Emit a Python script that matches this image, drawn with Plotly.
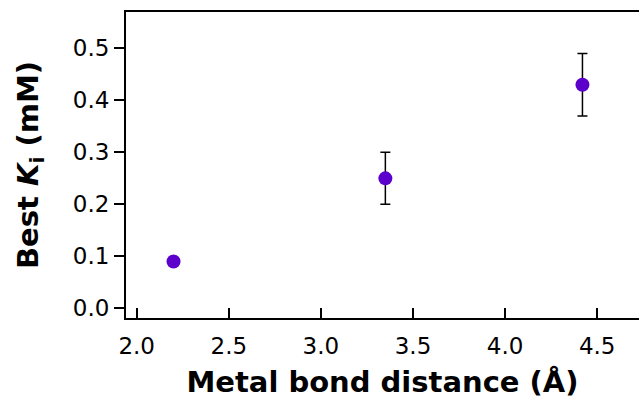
import plotly.graph_objects as go

# Measured data
bond_distance = [2.2, 3.35, 4.42]          # Å
best_ki = [0.09, 0.25, 0.43]               # mM
ki_error = [None, 0.05, 0.06]              # mM

x_ticks = [2.0, 2.5, 3.0, 3.5, 4.0, 4.5]
y_ticks = [0.0, 0.1, 0.2, 0.3, 0.4, 0.5]

marker_color = "#5c00cc"
font_family = "DejaVu Sans"

fig = go.Figure(
    go.Scatter(
        x=bond_distance,
        y=best_ki,
        mode="markers",
        marker=dict(size=14, color=marker_color),
        error_y=dict(
            type="data",
            array=ki_error,
            visible=True,
            color="black",
            thickness=1.5,
            width=5,
        ),
        showlegend=False,
    )
)

fig.update_layout(
    width=639,
    height=404,
    margin=dict(l=126, r=0, t=12, b=86),
    paper_bgcolor="white",
    plot_bgcolor="white",
    font=dict(family=font_family, color="black"),
)

fig.update_xaxes(
    range=[1.942, 4.727],
    tickvals=x_ticks,
    ticktext=[f"{v:.1f}" for v in x_ticks],
    ticks="inside",
    ticklen=10,
    tickwidth=1.5,
    tickcolor="black",
    ticklabelstandoff=6,
    showline=True,
    linewidth=2,
    linecolor="black",
    mirror=True,
    showgrid=False,
    zeroline=False,
    tickfont=dict(size=23, family=font_family),
    title=dict(
        text="Metal bond distance (Å)",
        font=dict(size=29, family=font_family, weight="bold"),
        standoff=14,
    ),
)

fig.update_yaxes(
    range=[-0.0187, 0.57],
    tickvals=y_ticks,
    ticktext=[f"{v:.1f}" for v in y_ticks],
    ticks="outside",
    ticklen=10,
    tickwidth=1.5,
    tickcolor="black",
    showline=True,
    linewidth=2,
    linecolor="black",
    mirror=False,
    showgrid=False,
    zeroline=False,
    tickfont=dict(size=23, family=font_family),
    title=dict(
        text="Best <i>K</i><sub>i</sub> (mM)",
        font=dict(size=29, family=font_family, weight="bold"),
        standoff=26,
    ),
)

fig.write_html("out.html")
